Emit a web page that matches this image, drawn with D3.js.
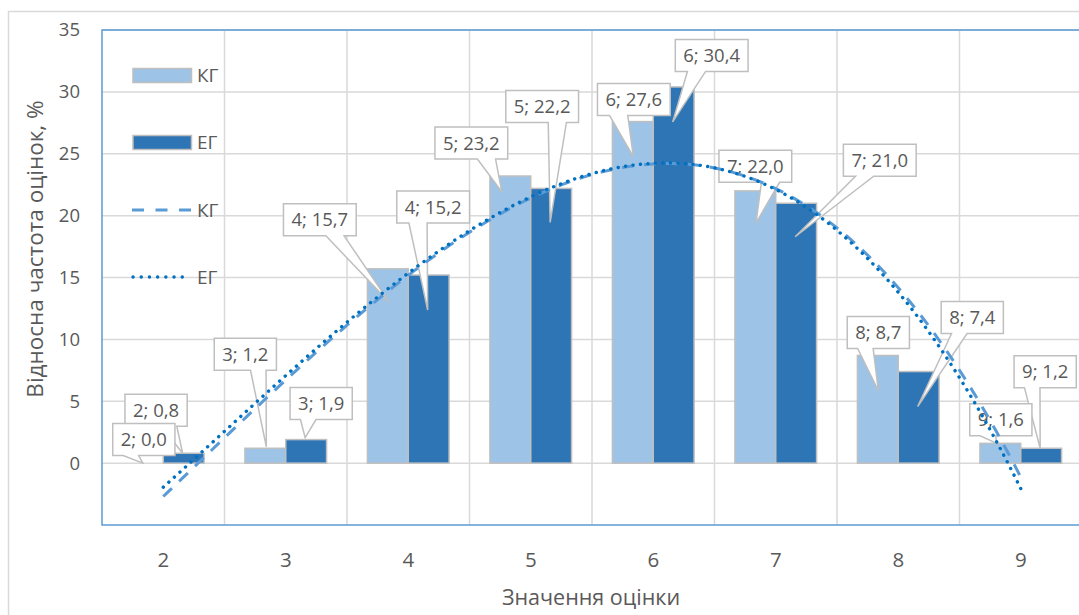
<!DOCTYPE html>
<html>
<head>
<meta charset="utf-8">
<script src="https://cdn.jsdelivr.net/npm/d3@7"></script>
<style>
  html, body { margin: 0; padding: 0; background: #fff; }
  svg { display: block; }
  text { font-family: "Open Sans", "Noto Sans", sans-serif; fill: #595959; }
</style>
</head>
<body>
<svg id="chart" width="1079" height="615"></svg>
<script>
// ---------- data ----------
const categories = ["2", "3", "4", "5", "6", "7", "8", "9"];
const seriesNames = ["КГ", "ЕГ"];
const valuesKG = [0.0, 1.2, 15.7, 23.2, 27.6, 22.0, 8.7, 1.6];
const valuesEG = [0.8, 1.9, 15.2, 22.2, 30.4, 21.0, 7.4, 1.2];
const yTicks = [0, 5, 10, 15, 20, 25, 30, 35];
const yTitle = "Відносна частота оцінок, %";
const xTitle = "Значення оцінки";
const trendOrder = 3;

// ---------- callout layout (box-centre offset, pointer-tip offset from bar top) ----------
const calloutKG = [
  {bx: 1, by: -23.6, tx: 0, ty: 0},
  {bx: -20, by: -94, tx: 1, ty: -1.5},
  {bx: -68, by: -49, tx: 1.5, ty: 33.5},
  {bx: -39, by: -33, tx: -8.6, ty: 15.7},
  {bx: 1, by: -22, tx: 0.5, ty: 35},
  {bx: 0, by: -24.6, tx: 0.7, ty: 32},
  {bx: 0.5, by: -23, tx: 0.5, ty: 35},
  {bx: 0.5, by: -23.5, tx: -3.6, ty: 0}
];
const calloutEG = [
  {bx: -27.6, by: -43, tx: -1, ty: 0},
  {bx: 15, by: -36, tx: -1, ty: -2},
  {bx: 4.5, by: -68, tx: -1, ty: 35},
  {bx: -9, by: -82, tx: -1, ty: 34},
  {bx: 38, by: -31.5, tx: -1, ty: 35},
  {bx: 83.6, by: -43, tx: -1, ty: 33.5},
  {bx: 53.6, by: -54, tx: -1, ty: 35},
  {bx: 4, by: -76.6, tx: -1, ty: 0}
];

// ---------- layout ----------
const plot = {left: 102, top: 30, right: 1082, bottom: 525};
const colors = {KG: "#9DC3E6", EG: "#2E75B6", trendKG: "#5B9BD5", trendEG: "#0070C0",
  grid: "#D9D9D9", barStroke: "#BFBFBF", plotBorder: "#5B9BD5", outer: "#D9D9D9"};

const svg = d3.select("#chart");

const x = d3.scaleBand().domain(categories).range([plot.left, plot.right]).paddingInner(0).paddingOuter(0);
const xs = d3.scaleBand().domain(seriesNames).range([0, x.bandwidth()]).paddingInner(0).paddingOuter(0.5);
const y = d3.scaleLinear().domain([-5, 35]).range([plot.bottom, plot.top]);

// outer chart border
svg.append("rect").attr("x", 8.5).attr("y", 11.5).attr("width", 1200).attr("height", 700)
  .attr("fill", "#fff").attr("stroke", colors.outer).attr("stroke-width", 1.5);

// horizontal gridlines
svg.append("g").selectAll("line").data(yTicks).join("line")
  .attr("x1", plot.left).attr("x2", plot.right)
  .attr("y1", d => y(d)).attr("y2", d => y(d))
  .attr("stroke", colors.grid).attr("stroke-width", 1.5);

// vertical gridlines at category boundaries
svg.append("g").selectAll("line").data(categories.slice(1)).join("line")
  .attr("x1", d => x(d)).attr("x2", d => x(d))
  .attr("y1", plot.top).attr("y2", plot.bottom)
  .attr("stroke", colors.grid).attr("stroke-width", 1.5);

// y axis tick labels
const yAxis = d3.axisLeft(y).tickValues(yTicks).tickSize(0).tickPadding(0).tickFormat(d3.format("d"));
const gy = svg.append("g").attr("transform", `translate(80,0)`).call(yAxis);
gy.select(".domain").remove();
gy.selectAll("text").attr("font-size", 18.5).attr("fill", "#595959")
  .style("font-family", '"Open Sans", sans-serif');

// x axis tick labels
const xAxis = d3.axisBottom(x).tickSize(0).tickPadding(0);
const gx = svg.append("g").attr("transform", `translate(0,${plot.bottom})`).call(xAxis);
gx.select(".domain").remove();
gx.selectAll("text").attr("font-size", 20.5).attr("fill", "#595959").attr("dy", null)
  .attr("y", 41.7).style("font-family", '"Open Sans", sans-serif');

// bars
const seriesData = [
  {name: "КГ", values: valuesKG, color: colors.KG, callouts: calloutKG},
  {name: "ЕГ", values: valuesEG, color: colors.EG, callouts: calloutEG}
];
seriesData.forEach(s => {
  svg.append("g").selectAll("rect").data(s.values).join("rect")
    .attr("x", (d, i) => x(categories[i]) + xs(s.name))
    .attr("width", xs.bandwidth())
    .attr("y", d => y(Math.max(0, d)))
    .attr("height", d => Math.abs(y(d) - y(0)))
    .attr("fill", s.color)
    .attr("stroke", colors.barStroke).attr("stroke-width", 1.5);
});

// callouts (wedge rectangle)
function calloutPath(l, t, w, h, tx, ty) {
  const r = l + w, b = t + h, cx = l + w / 2, cy = t + h / 2;
  const dxPos = tx - cx, dyPos = ty - cy;
  if (Math.abs(dxPos) <= w / 2 && Math.abs(dyPos) <= h / 2) {
    return `M${l},${t}H${r}V${b}H${l}Z`;
  }
  const dx = dxPos * h, dy = dyPos * w;
  const x1 = l + w * (dxPos > 0 ? 7 : 2) / 12, x2 = l + w * (dxPos > 0 ? 10 : 5) / 12;
  const y1 = t + h * (dyPos > 0 ? 7 : 2) / 12, y2 = t + h * (dyPos > 0 ? 10 : 5) / 12;
  if (Math.abs(dy) >= Math.abs(dx)) {
    if (dyPos < 0) return `M${l},${t}L${x1},${t}L${tx},${ty}L${x2},${t}L${r},${t}L${r},${b}L${l},${b}Z`;
    return `M${l},${t}L${r},${t}L${r},${b}L${x2},${b}L${tx},${ty}L${x1},${b}L${l},${b}Z`;
  } else {
    if (dxPos < 0) return `M${l},${t}L${r},${t}L${r},${b}L${l},${b}L${l},${y2}L${tx},${ty}L${l},${y1}Z`;
    return `M${l},${t}L${r},${t}L${r},${y1}L${tx},${ty}L${r},${y2}L${r},${b}L${l},${b}Z`;
  }
}
const fmt = v => v.toFixed(1).replace(".", ",");
const labelLayer = svg.append("g");
[seriesData[1], seriesData[0]].forEach(s => {
  s.values.forEach((v, i) => {
    const ax = x(categories[i]) + xs(s.name) + xs.bandwidth() / 2;
    const ay = y(v);
    const c = s.callouts[i];
    const g = labelLayer.append("g");
    const txt = g.append("text").text(`${categories[i]}; ${fmt(v)}`)
      .attr("font-size", 18.5).attr("fill", "#404040").attr("text-anchor", "middle")
      .attr("x", ax + c.bx).attr("y", ay + c.by).attr("dy", "0.36em");
    const tw = txt.node().getComputedTextLength();
    const w = tw + 16, h = 32;
    const l = ax + c.bx - w / 2, t = ay + c.by - h / 2;
    g.insert("path", "text").attr("d", calloutPath(l, t, w, h, ax + c.tx, ay + c.ty))
      .attr("fill", "#fff").attr("stroke", colors.barStroke).attr("stroke-width", 1.5)
      .attr("stroke-linejoin", "miter");
  });
});

// polynomial trendlines (least squares, order 3, x = 1..n as Excel)
function polyFit(ys, order) {
  const n = order + 1;
  const A = Array.from({length: n}, () => new Array(n + 1).fill(0));
  ys.forEach((yv, k) => {
    const xv = k + 1;
    for (let i = 0; i < n; i++) {
      for (let j = 0; j < n; j++) A[i][j] += Math.pow(xv, i + j);
      A[i][n] += yv * Math.pow(xv, i);
    }
  });
  for (let i = 0; i < n; i++) {
    let p = i;
    for (let r = i + 1; r < n; r++) if (Math.abs(A[r][i]) > Math.abs(A[p][i])) p = r;
    [A[i], A[p]] = [A[p], A[i]];
    for (let r = 0; r < n; r++) {
      if (r === i) continue;
      const f = A[r][i] / A[i][i];
      for (let c = i; c <= n; c++) A[r][c] -= f * A[i][c];
    }
  }
  return A.map((row, i) => row[n] / A[i][i]);
}
const xIdx = d3.scaleLinear().domain([1, categories.length])
  .range([x(categories[0]) + x.bandwidth() / 2, x(categories[categories.length - 1]) + x.bandwidth() / 2]);
const line = d3.line().x(d => xIdx(d[0])).y(d => y(d[1]));
function trendPoints(vals) {
  const coef = polyFit(vals, trendOrder);
  return d3.range(1, categories.length + 0.0001, 0.05).map(t =>
    [t, coef.reduce((acc, c, i) => acc + c * Math.pow(t, i), 0)]);
}
svg.append("path").attr("d", line(trendPoints(valuesKG)))
  .attr("fill", "none").attr("stroke", colors.trendKG).attr("stroke-width", 3)
  .attr("stroke-dasharray", "12,10");
svg.append("path").attr("d", line(trendPoints(valuesEG)))
  .attr("fill", "none").attr("stroke", colors.trendEG).attr("stroke-width", 3.4)
  .attr("stroke-linecap", "round").attr("stroke-dasharray", "0.1,7.4");

// plot-area border
svg.append("rect").attr("x", plot.left).attr("y", plot.top)
  .attr("width", plot.right - plot.left).attr("height", plot.bottom - plot.top)
  .attr("fill", "none").attr("stroke", colors.plotBorder).attr("stroke-width", 1.5);

// legend
const legend = [
  {label: "КГ", type: "bar", color: colors.KG},
  {label: "ЕГ", type: "bar", color: colors.EG},
  {label: "КГ", type: "dash", color: colors.trendKG},
  {label: "ЕГ", type: "dot", color: colors.trendEG}
];
const legY = [75.5, 142.5, 210, 277];
const lg = svg.append("g");
legend.forEach((d, i) => {
  const cy = legY[i];
  if (d.type === "bar") {
    lg.append("rect").attr("x", 133).attr("y", cy - 7).attr("width", 58.5).attr("height", 14)
      .attr("fill", d.color).attr("stroke", colors.barStroke).attr("stroke-width", 1.5);
  } else if (d.type === "dash") {
    lg.append("line").attr("x1", 132).attr("x2", 192).attr("y1", cy).attr("y2", cy)
      .attr("stroke", d.color).attr("stroke-width", 3).attr("stroke-dasharray", "12,11.5");
  } else {
    lg.append("line").attr("x1", 133).attr("x2", 190).attr("y1", cy).attr("y2", cy)
      .attr("stroke", d.color).attr("stroke-width", 3.4).attr("stroke-linecap", "round")
      .attr("stroke-dasharray", "0.1,8.1");
  }
  lg.append("text").text(d.label).attr("x", 197).attr("y", cy).attr("dy", "0.36em")
    .attr("font-size", 19).attr("fill", "#595959");
});

// axis titles
svg.append("text").text(yTitle).attr("transform", "translate(43,249) rotate(-90)")
  .attr("text-anchor", "middle").attr("font-size", 22.5).attr("fill", "#595959");
svg.append("text").text(xTitle).attr("x", 591).attr("y", 605)
  .attr("text-anchor", "middle").attr("font-size", 21.5).attr("fill", "#595959");
</script>
</body>
</html>
